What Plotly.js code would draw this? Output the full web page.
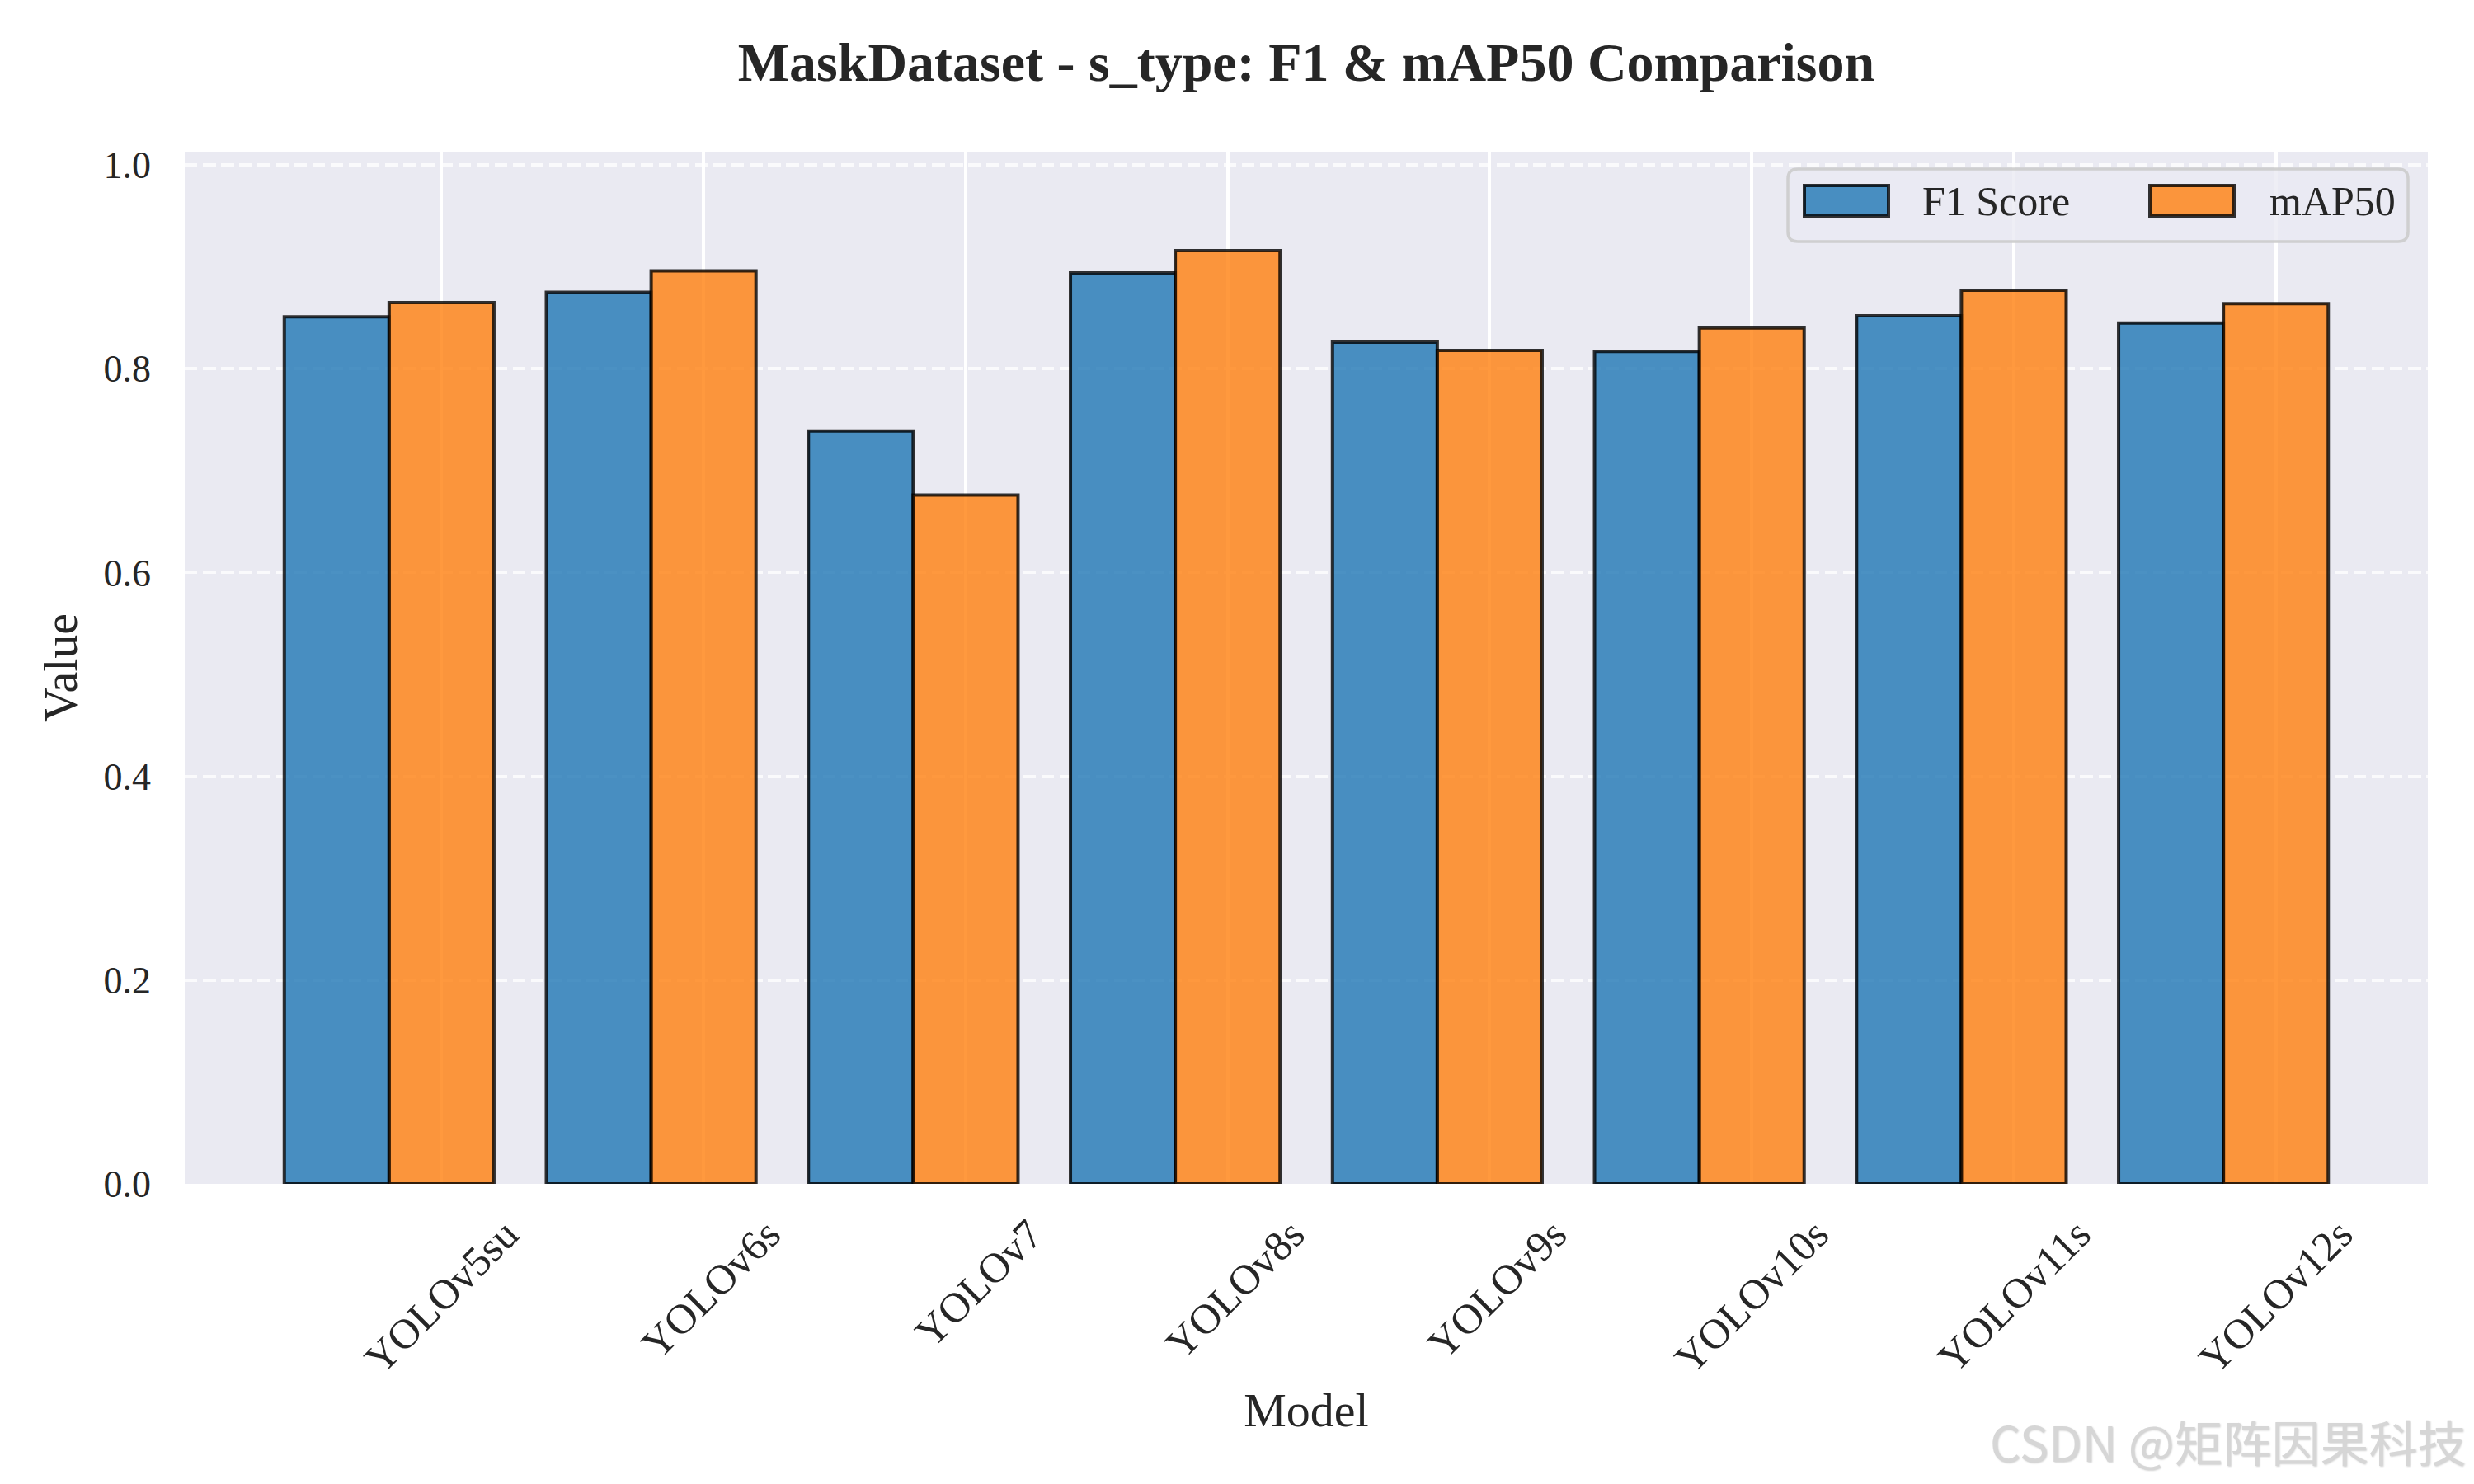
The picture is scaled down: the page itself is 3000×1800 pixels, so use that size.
<!DOCTYPE html>
<html>
<head>
<meta charset="utf-8">
<script src="https://cdn.plot.ly/plotly-3.0.1.min.js"></script>
<style>html,body{margin:0;padding:0;background:#ffffff;}</style>
</head>
<body>
<div id="chart" style="width:3000px;height:1800px;"></div>
<script>
// ---- data ----
const models = ['YOLOv5su', 'YOLOv6s', 'YOLOv7', 'YOLOv8s', 'YOLOv9s', 'YOLOv10s', 'YOLOv11s', 'YOLOv12s'];
const f1Scores = [0.851, 0.875, 0.739, 0.894, 0.826, 0.817, 0.852, 0.845];
const map50Scores = [0.865, 0.896, 0.676, 0.916, 0.818, 0.840, 0.877, 0.864];
const seriesNames = ['F1 Score', 'mAP50'];
const yTicks = [0.0, 0.2, 0.4, 0.6, 0.8, 1.0];
const titleText = 'MaskDataset - s_type: F1 &amp; mAP50 Comparison';
const watermarkText = 'CSDN @矩阵因果科技';

// ---- styling ----
const W = 3000, H = 1800, ML = 224, MR = 56, MT = 184, MB = 364;
const PW = W - ML - MR, PH = H - MT - MB;
const toPX = x => (x - ML) / PW;
const toPY = y => (H - MB - y) / PH;
const FONT = '"Liberation Serif", "Times New Roman", Times, serif';
const TXT = '#262626';
const blueFill = 'rgba(31,119,180,0.8)';
const orangeFill = 'rgba(255,127,14,0.8)';
const edge = 'rgba(0,0,0,0.8)';
const barW = 0.4;

const idx = models.map((_, i) => i);
const tickPos = idx.map(i => i + barW / 2);

const traces = [
  {
    type: 'bar', name: seriesNames[0], x: idx, y: f1Scores,
    width: barW, offset: -barW,
    marker: { color: blueFill, line: { color: edge, width: 4 } },
    showlegend: false, hoverinfo: 'skip'
  },
  {
    type: 'bar', name: seriesNames[1], x: idx, y: map50Scores,
    width: barW, offset: 0,
    marker: { color: orangeFill, line: { color: edge, width: 4 } },
    showlegend: false, hoverinfo: 'skip'
  }
];

// custom legend (matplotlib-like)
function roundRectPath(x0, y0, x1, y1, r) {
  const P = (x, y) => toPX(x).toFixed(5) + ',' + toPY(y).toFixed(5);
  return 'M' + P(x0 + r, y0) + ' L' + P(x1 - r, y0) + ' Q' + P(x1, y0) + ' ' + P(x1, y0 + r) +
    ' L' + P(x1, y1 - r) + ' Q' + P(x1, y1) + ' ' + P(x1 - r, y1) +
    ' L' + P(x0 + r, y1) + ' Q' + P(x0, y1) + ' ' + P(x0, y1 - r) +
    ' L' + P(x0, y0 + r) + ' Q' + P(x0, y0) + ' ' + P(x0 + r, y0) + ' Z';
}
const legBox = { x0: 2168, y0: 205, x1: 2920, y1: 293 };
const legItems = [
  { sx: 2188, tx: 2329, fill: blueFill, name: seriesNames[0] },
  { sx: 2607, tx: 2750, fill: orangeFill, name: seriesNames[1] }
];
const shapes = [
  {
    type: 'path', xref: 'paper', yref: 'paper', layer: 'above',
    path: roundRectPath(legBox.x0, legBox.y0, legBox.x1, legBox.y1, 12),
    fillcolor: 'rgba(234,234,242,0.8)', line: { color: 'rgba(204,204,204,0.9)', width: 3.5 }
  }
];
const annotations = [];
legItems.forEach(it => {
  shapes.push({
    type: 'rect', xref: 'paper', yref: 'paper', layer: 'above',
    x0: toPX(it.sx), x1: toPX(it.sx + 102), y0: toPY(262), y1: toPY(225),
    fillcolor: it.fill, line: { color: edge, width: 4 }
  });
  annotations.push({
    xref: 'paper', yref: 'paper', x: toPX(it.tx), y: toPY(244),
    xanchor: 'left', yanchor: 'middle', showarrow: false, text: it.name,
    font: { family: FONT, size: 50, color: TXT }
  });
});
annotations.push({
  xref: 'paper', yref: 'paper', x: toPX(2993), y: toPY(1748),
  xanchor: 'right', yanchor: 'middle', showarrow: false, text: watermarkText,
  font: { family: '"Noto Sans CJK SC", "Noto Sans", sans-serif', size: 59, color: 'rgb(214,214,214)',
          shadow: '1px 1px 2px rgba(0,0,0,0.18)' }
});

const layout = {
  width: W, height: H,
  margin: { l: ML, r: MR, t: MT, b: MB, pad: 0 },
  paper_bgcolor: '#ffffff',
  plot_bgcolor: '#EAEAF2',
  barmode: 'overlay',
  showlegend: false,
  font: { family: FONT, color: TXT },
  title: {
    text: titleText,
    font: { family: FONT, size: 66, color: TXT, weight: 'bold' },
    xref: 'paper', x: 0.5, xanchor: 'center',
    yref: 'container', y: 1 - 75 / H, yanchor: 'middle'
  },
  xaxis: {
    range: [-0.78, 7.78],
    tickmode: 'array', tickvals: tickPos, ticktext: models,
    tickangle: -45, ticks: '', ticklabelshift: 78, ticklabelstandoff: 20,
    tickfont: { family: FONT, size: 51, color: TXT },
    showgrid: true, gridcolor: '#ffffff', gridwidth: 4,
    zeroline: false, showline: false,
    title: { text: 'Model', font: { family: FONT, size: 58, color: TXT }, standoff: 13 }
  },
  yaxis: {
    range: [0, 1.013],
    tickmode: 'array', tickvals: yTicks, ticktext: yTicks.map(v => v.toFixed(1)),
    ticks: '', ticklabelstandoff: 40,
    tickfont: { family: FONT, size: 46, color: TXT },
    showgrid: true, gridcolor: 'rgba(255,255,255,0.75)', gridwidth: 4, griddash: '15.4px,6.7px',
    zeroline: false, showline: false,
    title: { text: 'Value', font: { family: FONT, size: 58, color: TXT }, standoff: 13 }
  },
  shapes: shapes,
  annotations: annotations
};

Plotly.newPlot('chart', traces, layout, { displayModeBar: false, responsive: false });
</script>
</body>
</html>
